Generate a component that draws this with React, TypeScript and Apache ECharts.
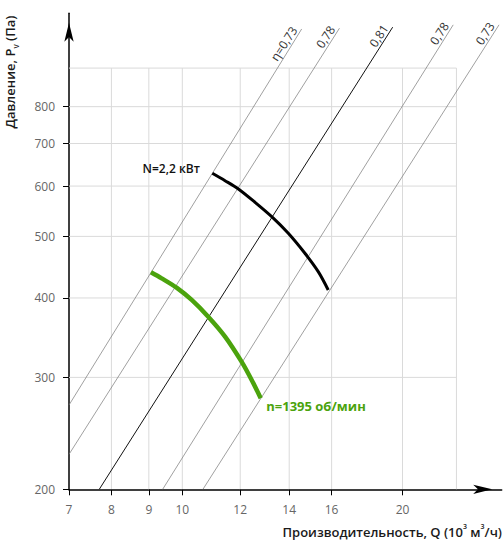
import React, { useEffect, useRef } from 'react';
import * as echarts from 'echarts';

// Axis tick labels
const xTickLabels = [7, 8, 9, 10, 12, 14, 16, 20];
const yTickLabels = [200, 300, 400, 500, 600, 700, 800];
// Axis extents and plot frame (data units)
const xMin = 7;
const xMax = 27.33;
const yMin = 200;
const yMax = 1122;
const frameRightQ = 23.7;
const frameTopP = 920;

// Efficiency lines (η)
const etaNames = ['η=0,73', '0,78', '0,81', '0,78', '0,73'];
const etaStartQ = [7, 7, 7.7, 9.4, 10.67];
const etaStartP = [271.4, 227, 200, 200, 200];
const etaEndQ = [14.56, 16.4, 19.39, 23.46, 27.1];
const etaEndP = [1060, 1063, 1067, 1076, 1076];
const etaMain = [false, false, true, false, false];

// Power curve N = 2,2 кВт
const powerQ = [10.99, 11.44, 11.93, 12.57, 13.25, 13.96, 14.71, 15.34, 15.83];
const powerP = [628.5, 611.8, 593.7, 565.8, 537.1, 505.7, 470.3, 440.0, 411.8];

// Fan curve n = 1395 об/мин
const speedQ = [9.06, 9.37, 9.82, 10.3, 10.85, 11.44, 12.05, 12.44, 12.8];
const speedP = [439, 429.5, 415.3, 397.2, 373.8, 347.8, 317.6, 297.2, 278.1];

const FONT = 'Open Sans';
const GREEN = '#4ba30d';

function buildOption() {
  const series: any[] = [];
  const gridStyle = { color: '#dadada', width: 1 };
  xTickLabels
    .filter((v) => v > xMin)
    .concat([frameRightQ])
    .forEach((v) => {
      series.push({
        type: 'line',
        data: [[v, yMin], [v, frameTopP]],
        symbol: 'none',
        silent: true,
        lineStyle: gridStyle,
        z: 1,
      });
    });
  yTickLabels
    .filter((v) => v > yMin)
    .concat([frameTopP])
    .forEach((v) => {
      series.push({
        type: 'line',
        data: [[xMin, v], [frameRightQ, v]],
        symbol: 'none',
        silent: true,
        lineStyle: gridStyle,
        z: 1,
      });
    });

  etaNames.forEach((name, i) => {
    series.push({
      type: 'line',
      data: [
        [etaStartQ[i], etaStartP[i]],
        {
          value: [etaEndQ[i], etaEndP[i]],
          label: {
            show: true,
            formatter: name,
            position: 'inside',
            align: 'right',
            verticalAlign: 'bottom',
            rotate: 57,
            offset: [-3, -1],
            color: '#333',
            fontSize: 12,
            fontFamily: FONT,
          },
        },
      ],
      symbol: 'circle',
      symbolSize: 1,
      itemStyle: { color: 'rgba(0,0,0,0)' },
      lineStyle: { color: etaMain[i] ? '#111' : '#777', width: etaMain[i] ? 1 : 0.7 },
      silent: true,
      z: 2,
    });
  });

  series.push({
    type: 'line',
    data: powerQ.map((q, i) =>
      i === 0
        ? {
            value: [q, powerP[i]],
            label: {
              show: true,
              formatter: 'N=2,2 кВт',
              position: 'left',
              distance: 12,
              offset: [0, -5],
              color: '#111',
              fontSize: 12,
              fontWeight: 600,
              fontFamily: FONT,
            },
          }
        : [q, powerP[i]]
    ),
    smooth: 0.3,
    symbol: 'circle',
    symbolSize: 1,
    itemStyle: { color: 'rgba(0,0,0,0)' },
    lineStyle: { color: '#000', width: 3 },
    silent: true,
    z: 5,
  });

  series.push({
    type: 'line',
    data: speedQ.map((q, i) =>
      i === speedQ.length - 1
        ? {
            value: [q, speedP[i]],
            label: {
              show: true,
              formatter: 'n=1395 об/мин',
              position: 'right',
              distance: 5,
              offset: [0, 8],
              color: GREEN,
              fontSize: 13,
              fontWeight: 700,
              fontFamily: FONT,
            },
          }
        : [q, speedP[i]]
    ),
    smooth: 0.3,
    symbol: 'circle',
    symbolSize: 1,
    itemStyle: { color: 'rgba(0,0,0,0)' },
    lineStyle: { color: GREEN, width: 4.5 },
    silent: true,
    z: 6,
  });

  const axisCommon = {
    axisLine: {
      show: true,
      onZero: false,
      lineStyle: { color: '#000', width: 1.5 },
      symbol: ['none', 'arrow'],
      symbolSize: [7, 19],
      symbolOffset: [0, -9.5],
    },
    splitLine: { show: false },
    minorTick: { show: false },
    minorSplitLine: { show: false },
  };

  return {
    animation: false,
    backgroundColor: '#fff',
    grid: { left: 69, right: 2.3, top: 13.3, bottom: 62.7, containLabel: false, outerBoundsMode: 'none' },
    xAxis: {
      type: 'log',
      logBase: 10,
      min: xMin,
      max: xMax,
      ...axisCommon,
      axisTick: { show: true, customValues: xTickLabels, length: 6, lineStyle: { color: '#000', width: 1 } },
      axisLabel: {
        customValues: xTickLabels,
        color: '#666',
        fontSize: 12,
        fontFamily: FONT,
        margin: 14,
        formatter: (v: number) => String(Math.round(v)),
      },
    },
    yAxis: {
      type: 'log',
      logBase: 10,
      min: yMin,
      max: yMax,
      ...axisCommon,
      axisTick: { show: true, customValues: yTickLabels, length: 6, lineStyle: { color: '#000', width: 1 } },
      axisLabel: {
        customValues: yTickLabels,
        color: '#666',
        fontSize: 12,
        fontFamily: FONT,
        margin: 14,
        formatter: (v: number) => String(Math.round(v)),
      },
    },
    graphic: [
      {
        type: 'text',
        x: 10,
        y: 72,
        rotation: Math.PI / 2,
        silent: true,
        style: {
          text: '{a|Давление, P}{s|v}{a| (Па)}',
          align: 'center',
          verticalAlign: 'middle',
          rich: {
            a: { fontSize: 13, fontWeight: 600, fontFamily: FONT, fill: '#1a1a1a', lineHeight: 18 },
            s: { fontSize: 8, fontWeight: 600, fontFamily: FONT, fill: '#1a1a1a', lineHeight: 18, verticalAlign: 'bottom' },
          },
        },
      },
      {
        type: 'text',
        x: 502,
        y: 531.7,
        silent: true,
        style: {
          text: '{a|Производительность, Q (10}{p|3}{a| м}{p|3}{a|/ч)}',
          align: 'right',
          verticalAlign: 'middle',
          rich: {
            a: { fontSize: 13, fontWeight: 600, fontFamily: FONT, fill: '#1a1a1a', lineHeight: 18 },
            p: { fontSize: 7, fontWeight: 600, fontFamily: FONT, fill: '#1a1a1a', lineHeight: 18, verticalAlign: 'top' },
          },
        },
      },
    ],
    series,
  };
}

export default function App() {
  const ref = useRef<HTMLDivElement>(null);
  useEffect(() => {
    if (!ref.current) return;
    const chart = echarts.init(ref.current, null, { renderer: 'svg' });
    chart.setOption(buildOption() as any);
    return () => chart.dispose();
  }, []);
  return (
    <div
      ref={ref}
      style={{ position: 'fixed', left: 0, top: 0, width: 504, height: 552, background: '#fff' }}
    />
  );
}
